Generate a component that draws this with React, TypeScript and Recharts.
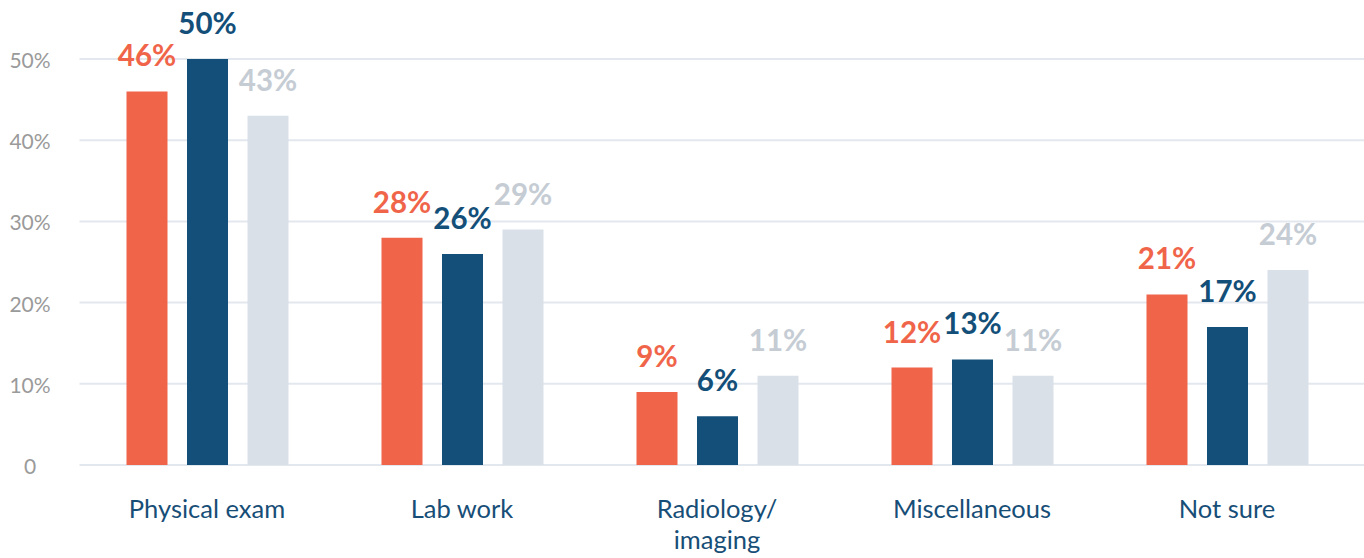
import React from "react";
import { BarChart, Bar, XAxis, YAxis, CartesianGrid, LabelList } from "recharts";

const categories = ["Physical exam", "Lab work", "Radiology/\nimaging", "Miscellaneous", "Not sure"];
const seriesA = [46, 28, 9, 12, 21];
const seriesB = [50, 26, 6, 13, 17];
const seriesC = [43, 29, 11, 11, 24];
const yTicks = [0, 10, 20, 30, 40, 50];

const data = categories.map((c, i) => ({ name: c, a: seriesA[i], b: seriesB[i], c: seriesC[i] }));

const FONT = "Lato, 'Open Sans', sans-serif";

const YTick = (props: any) => {
  const { y, payload } = props;
  const v = payload.value;
  return (
    <text x={30} y={y} dy={9} textAnchor="middle" fill="#9a9a9a" fontSize={21} fontFamily={FONT}>
      {v === 0 ? "0" : `${v}%`}
    </text>
  );
};

const XTick = (props: any) => {
  const { x, y, payload } = props;
  const lines = String(payload.value).split("\n");
  return (
    <g>
      {lines.map((l: string, i: number) => (
        <text key={i} x={x} y={y + 45 + i * 31} textAnchor="middle" fill="#174e77" fontSize={25.5} fontFamily={FONT}>
          {l}
        </text>
      ))}
    </g>
  );
};

const makeLabel = (color: string) => (props: any) => {
  const { x, y, width, value } = props;
  return (
    <text x={x + width / 2} y={y - 25} textAnchor="middle" fill={color} fontSize={29.5} fontWeight={700} fontFamily={FONT}>
      {`${value}%`}
    </text>
  );
};

export default function App() {
  return (
    <div style={{ position: "absolute", left: 0, top: 0 }}>
      <BarChart
        width={1364}
        height={558}
        data={data}
        margin={{ top: 59, right: 0, bottom: 0, left: 0 }}
        barSize={41}
        barGap={19.5}
      >
        <CartesianGrid vertical={false} stroke="#e3e8ee" strokeWidth={2} />
        <XAxis
          dataKey="name"
          axisLine={false}
          tickLine={false}
          height={93}
          interval={0}
          padding={{ left: 0, right: 9.5 }}
          tick={<XTick />}
        />
        <YAxis
          width={79.5}
          domain={[0, 50]}
          ticks={yTicks}
          axisLine={false}
          tickLine={false}
          tick={<YTick />}
        />
        <Bar dataKey="a" fill="#f0654a" isAnimationActive={false}>
          <LabelList dataKey="a" content={makeLabel("#f0654a")} />
        </Bar>
        <Bar dataKey="b" fill="#134f78" isAnimationActive={false}>
          <LabelList dataKey="b" content={makeLabel("#134f78")} />
        </Bar>
        <Bar dataKey="c" fill="#dae0e7" isAnimationActive={false}>
          <LabelList dataKey="c" content={makeLabel("#c5ccd4")} />
        </Bar>
      </BarChart>
    </div>
  );
}
